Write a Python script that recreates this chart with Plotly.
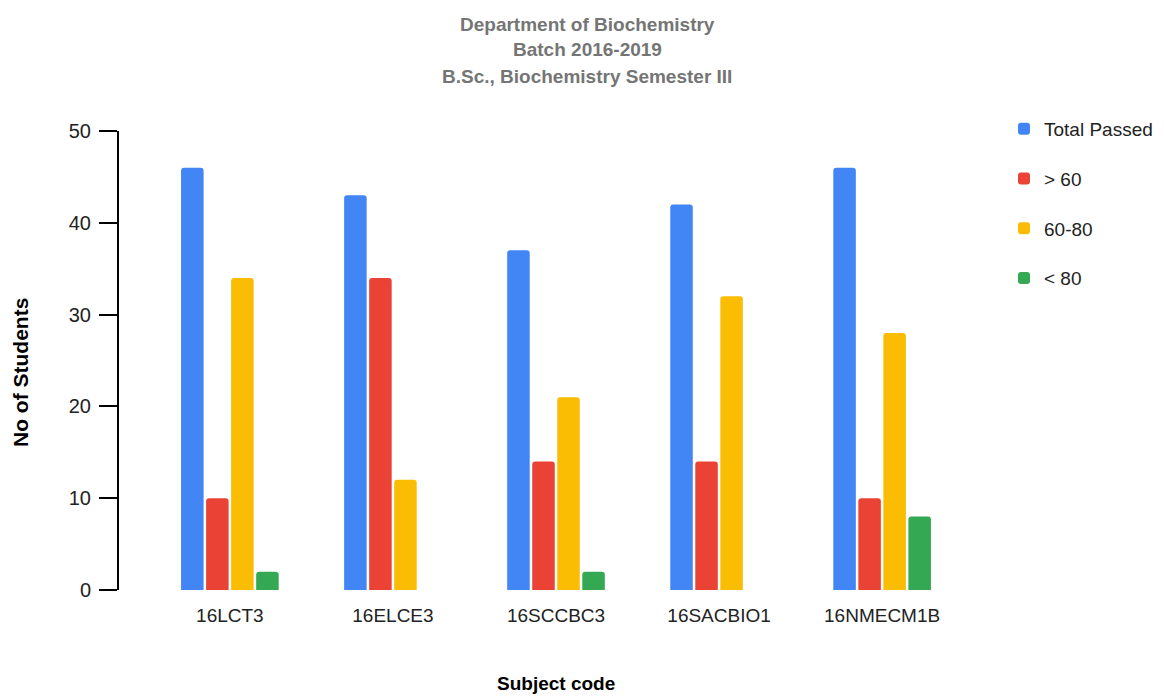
import plotly.graph_objects as go

categories = ["16LCT3", "16ELCE3", "16SCCBC3", "16SACBIO1", "16NMECM1B"]
series_names = ["Total Passed", "> 60", "60-80", "< 80"]
total_passed = [46, 43, 37, 42, 46]
above_60 = [10, 34, 14, 14, 10]
range_60_80 = [34, 12, 21, 32, 28]
below_80 = [2, 0, 2, 0, 8]
y_ticks = [0, 10, 20, 30, 40, 50]
title_lines = ["Department of Biochemistry", "Batch 2016-2019", "B.Sc., Biochemistry Semester III"]

colors = ["#4285F4", "#EA4335", "#FBBC04", "#34A853"]
values = [total_passed, above_60, range_60_80, below_80]

FONT = "Liberation Sans, Arial, sans-serif"

# page offset (default body margin of the html page)
OFF = 8
# plot area in reference pixels
L, R, T, B = 119, 993, 131, 590
W, H = 1164 - OFF, 697 - OFF

def px(xp):
    return (xp - L) / (R - L)

def py(yp):
    return (B - yp) / (B - T)

fig = go.Figure()
for i, (name, vals) in enumerate(zip(series_names, values)):
    fig.add_trace(go.Bar(
        x=categories, y=vals, name=name,
        marker=dict(color=colors[i], cornerradius=3, line=dict(width=0)),
        legendgroup=name,
    ))

annotations = []
for text, yc in zip(title_lines, [24, 49, 76]):
    annotations.append(dict(
        text="<b>" + text + "</b>", x=px(587), y=py(yc),
        xref="paper", yref="paper", xanchor="center", yanchor="middle",
        showarrow=False, font=dict(family=FONT, size=19, color="#757575")))
annotations.append(dict(
    text="<b>Subject code</b>", x=px(556), y=py(683),
    xref="paper", yref="paper", xanchor="center", yanchor="middle",
    showarrow=False, font=dict(family=FONT, size=19, color="#000000")))
annotations.append(dict(
    text="<b>No of Students</b>", x=px(20), y=py(373),
    xref="paper", yref="paper", xanchor="center", yanchor="middle",
    textangle=-90, showarrow=False,
    font=dict(family=FONT, size=21, color="#000000")))

fig.update_layout(
    width=W, height=H,
    paper_bgcolor="white", plot_bgcolor="white",
    margin=dict(l=L - OFF, r=1164 - R, t=T - OFF, b=697 - B, autoexpand=False),
    barmode="group", bargap=0.386, bargroupgap=0.1,
    font=dict(family=FONT, size=19, color="#222222"),
    legend=dict(
        x=px(1004), y=py(110), xanchor="left", yanchor="top",
        font=dict(family=FONT, size=19, color="#222222"),
        traceorder="grouped", tracegroupgap=22,
        itemwidth=30,
    ),
    xaxis=dict(
        range=[-0.68, 4.68], showline=False, ticks="", showgrid=False,
        tickfont=dict(family=FONT, size=19, color="#222222"),
        ticklabelstandoff=12,
    ),
    yaxis=dict(
        range=[0, 50], tickvals=y_ticks, showgrid=False, zeroline=False,
        showline=True, linecolor="black", linewidth=2,
        ticks="outside", ticklen=18, tickwidth=2, tickcolor="black",
        tickfont=dict(family=FONT, size=20, color="#222222"),
        ticklabelstandoff=4,
    ),
    annotations=annotations,
)

fig.write_html("out.html")
